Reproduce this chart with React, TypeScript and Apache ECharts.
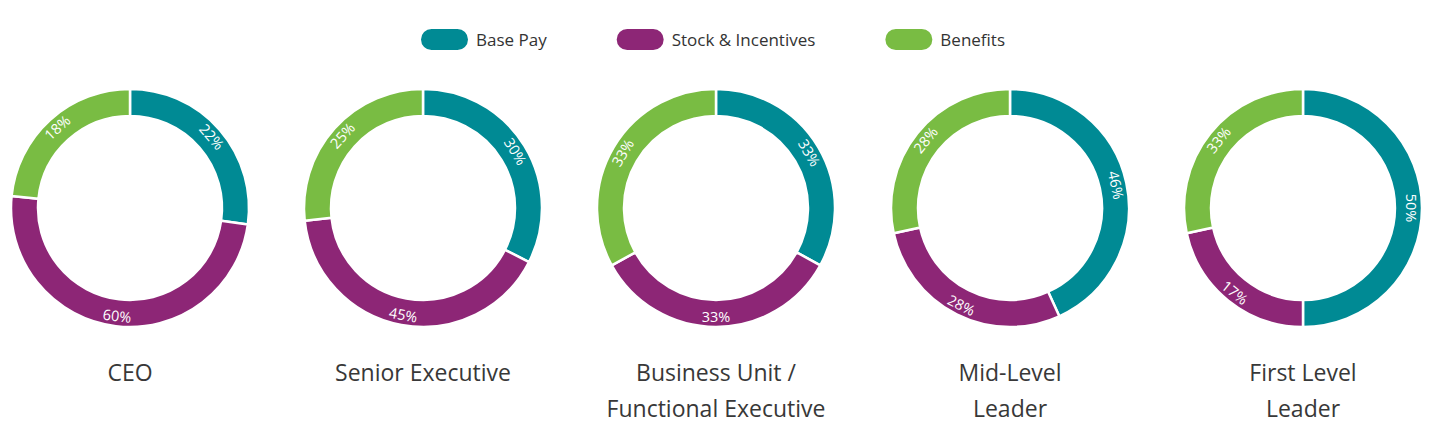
import React, { useEffect, useRef } from "react";
import * as echarts from "echarts";

const seriesNames = ["Base Pay", "Stock & Incentives", "Benefits"];
const colors = ["#008A94", "#8D2676", "#79BC43"];
const categories = ["CEO", "Senior Executive", "Business Unit /\nFunctional Executive", "Mid-Level\nLeader", "First Level\nLeader"];

// Percentages printed on the rings
const basePayLabel = [22, 30, 33, 46, 50];
const stockLabel = [60, 45, 33, 28, 17];
const benefitsLabel = [18, 25, 33, 28, 33];

// Arc shares as drawn in the picture (measured angles, in %)
const basePayArc = [27.2, 32.5, 33, 43.2, 50];
const stockArc = [49.4, 40.8, 34, 28.4, 21.6];
const benefitsArc = [23.4, 26.7, 33, 28.4, 28.4];

const centersX = [122, 415, 708, 1002, 1295];
const centerY = 200;
const FONT = "'Open Sans', Lato, sans-serif";

export default function App() {
  const ref = useRef<HTMLDivElement>(null);
  useEffect(() => {
    if (!ref.current) return;
    const chart = echarts.init(ref.current, null, { renderer: "svg" });
    const series = categories.map((cat, i) => ({
      type: "pie",
      name: cat,
      center: [centersX[i], centerY],
      radius: [92, 119],
      startAngle: 90,
      clockwise: true,
      avoidLabelOverlap: false,
      itemStyle: { borderColor: "#fff", borderWidth: 2.5 },
      label: {
        show: true,
        position: "inside",
        rotate: "tangential",
        color: "#fff",
        fontSize: 14.5,
        fontFamily: FONT,
        formatter: (p: any) => p.data.pct + "%",
      },
      labelLine: { show: false },
      emphasis: { disabled: true },
      data: [
        { name: seriesNames[0], value: basePayArc[i], pct: basePayLabel[i] },
        { name: seriesNames[1], value: stockArc[i], pct: stockLabel[i] },
        { name: seriesNames[2], value: benefitsArc[i], pct: benefitsLabel[i] },
      ],
    }));
    chart.setOption({
      animation: false,
      color: colors,
      legend: {
        data: seriesNames,
        top: 14,
        left: 406,
        itemWidth: 49,
        itemHeight: 23,
        itemGap: 68,
        icon: "path://M11.5,0L37.5,0A11.5,11.5,0,0,1,37.5,23L11.5,23A11.5,11.5,0,0,1,11.5,0Z",
        textStyle: { fontSize: 17, color: "#333", fontFamily: FONT, padding: [0, 0, 0, 2] },
      },
      graphic: categories.map((cat, i) => ({
        type: "text",
        x: centersX[i],
        y: 346,
        style: {
          text: cat,
          textAlign: "center",
          textVerticalAlign: "top",
          fontSize: 23,
          lineHeight: 36,
          fontFamily: FONT,
          fill: "#383838",
        },
      })),
      series,
    });
    return () => chart.dispose();
  }, []);
  return <div ref={ref} style={{ width: 1427, height: 417 }} />;
}
